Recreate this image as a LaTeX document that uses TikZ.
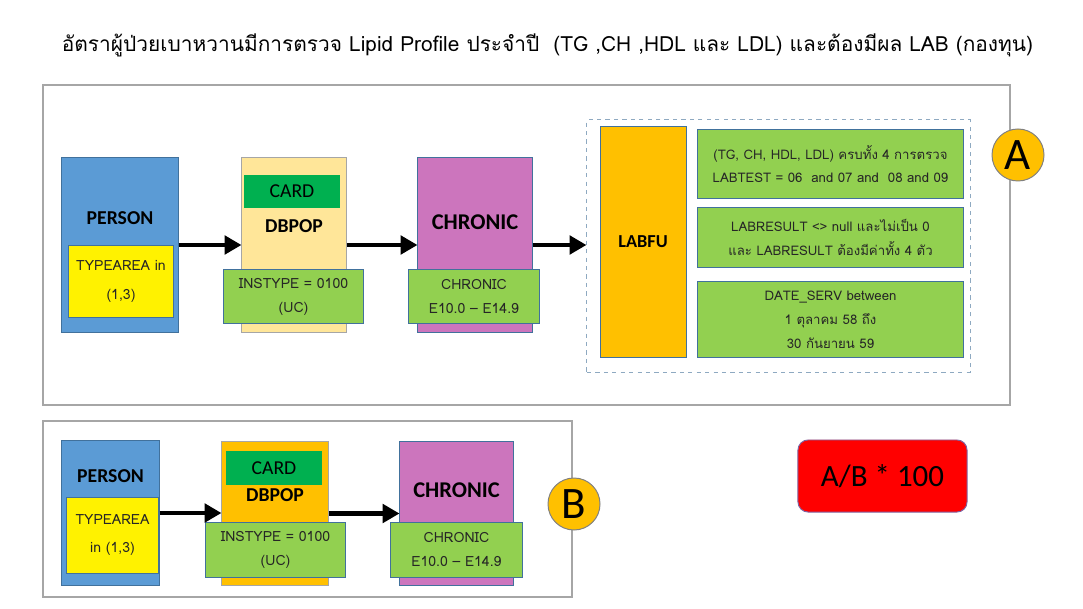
\documentclass[tikz,border=0pt]{standalone}
\usepackage{fontspec}
\setmainfont{Carlito}
\newfontfamily\thaifont[Script=Thai]{Loma}
\usetikzlibrary{arrows.meta,positioning}

\definecolor{personblue}{HTML}{5B9BD5}
\definecolor{edgeblue}{HTML}{41719C}
\definecolor{popcream}{HTML}{FFE699}
\definecolor{cardgreen}{HTML}{00B050}
\definecolor{condgreen}{HTML}{92D050}
\definecolor{chronicpink}{HTML}{CC75BD}
\definecolor{laborange}{HTML}{FFC000}
\definecolor{framegray}{HTML}{A6A6A6}
\definecolor{zoneblue}{HTML}{8EA9C1}
\definecolor{redline}{HTML}{8064A2}

\begin{document}
\begin{tikzpicture}[x=0.025cm, y=-0.025cm,
  box/.style={rectangle, draw=edgeblue, line width=0.7pt, inner sep=0pt},
  cond/.style={box, fill=condgreen, align=center, text=black!85, font=\thaifont\fontsize{10}{17}\selectfont},
  labcond/.style={cond, minimum width=6.625cm, font=\thaifont\fontsize{9.4}{17}\selectfont},
  head/.style={font=\bfseries\fontsize{14}{16}\selectfont},
  frame/.style={draw=framegray, line width=2pt},
  flow/.style={line width=3.5pt, -{Triangle[length=12pt,width=13pt]}},
  tagcircle/.style={circle, draw=gray, line width=0.7pt, fill=laborange, minimum size=1.3cm, inner sep=0pt, font=\fontsize{32}{32}\selectfont}]
  \useasboundingbox (0,0) rectangle (1083,609);

  % title
  \node[font=\thaifont\fontsize{14.85}{18}\selectfont] (title) at (547.5,45) {อัตราผู้ป่วยเบาหวานมีการตรวจ Lipid Profile ประจำปี~ (TG ,CH ,HDL และ LDL) และต้องมีผล LAB (กองทุน)};

  % frame A
  \draw[frame] (43,85) rectangle (1010,405);
  \node[box, fill=personblue, minimum width=2.9cm, minimum height=4.35cm] (personA) at (120,245) {};
  \node[head] (personAlbl) at (120,218) {PERSON};
  \node[box, fill=yellow, minimum width=2.6cm, minimum height=1.775cm, align=center, text=black!85, font=\thaifont\fontsize{10}{20}\selectfont] (typeA) at (121,281.5) {TYPEAREA in\\(1,3)};

  \node[box, draw=framegray, fill=popcream, minimum width=2.6cm, minimum height=4.35cm] (dbpopA) at (294,245) {};
  \node[rectangle, fill=cardgreen, minimum width=2.4cm, minimum height=0.825cm, inner sep=0pt, font=\fontsize{14}{16}\selectfont] (cardA) at (292,191.5) {CARD};
  \node[head] (dbpopAlbl) at (294,226) {DBPOP};
  \node[cond, minimum width=3.475cm, minimum height=1.325cm] (instA) at (293.5,296.5) {INSTYPE = 0100\\(UC)};

  \node[box, fill=chronicpink, minimum width=2.85cm, minimum height=4.35cm] (chronicA) at (475,245) {};
  \node[head, font=\bfseries\fontsize{16}{18}\selectfont] (chronicAlbl) at (475,222) {CHRONIC};
  \node[cond, minimum width=3.25cm, minimum height=1.325cm] (icdA) at (474,296.5) {CHRONIC\\E10.0 – E14.9};

  \node[draw=zoneblue, dashed, line width=0.7pt, minimum width=9.575cm, minimum height=6.3cm, inner sep=0pt] (labzone) at (778.5,246) {};
  \node[box, fill=laborange, minimum width=2.15cm, minimum height=5.75cm, font=\bfseries\fontsize{13}{15}\selectfont] (labfu) at (643,242) {LABFU};
  \node[labcond, minimum height=1.7cm] (testA) at (830.5,164) {(TG, CH, HDL, LDL) ครบทั้ง 4 การตรวจ\\LABTEST = 06~ and 07 and~ 08 and 09};
  \node[labcond, minimum height=1.475cm] (resultA) at (830.5,237.5) {LABRESULT <> null และไม่เป็น 0\\และ LABRESULT ต้องมีค่าทั้ง 4 ตัว};
  \node[labcond, minimum height=1.875cm] (dateA) at (830.5,319.5) {DATE\_SERV between\\1 ตุลาคม 58 ถึง\\30 กันยายน 59};

  \draw[flow] (personA) -- (dbpopA);
  \draw[flow] (dbpopA) -- (chronicA);
  \draw[flow] (chronicA.east) -- (chronicA.east -| labzone.west);
  \node[tagcircle] (tagA) at (1018,155) {A};

  % frame B
  \draw[frame] (43,421) rectangle (572,597);
  \node[box, fill=personblue, minimum width=2.425cm, minimum height=3.6cm] (personB) at (110.5,513) {};
  \node[head] (personBlbl) at (110.5,476) {PERSON};
  \node[box, fill=yellow, minimum width=2.275cm, minimum height=1.9cm, align=center, text=black!85, font=\thaifont\fontsize{10}{20}\selectfont] (typeB) at (112.5,535) {TYPEAREA\\in (1,3)};

  \node[box, draw=framegray, fill=laborange, minimum width=2.65cm, minimum height=3.575cm] (dbpopB) at (275,513.5) {};
  \node[rectangle, fill=cardgreen, minimum width=2.4cm, minimum height=0.85cm, inner sep=0pt, font=\fontsize{14}{16}\selectfont] (cardB) at (274,468) {CARD};
  \node[head] (dbpopBlbl) at (275,495) {DBPOP};
  \node[cond, minimum width=3.475cm, minimum height=1.375cm] (instB) at (275.5,549.5) {INSTYPE = 0100\\(UC)};

  \node[box, fill=chronicpink, minimum width=2.825cm, minimum height=3.575cm] (chronicB) at (456.5,513.5) {};
  \node[head, font=\bfseries\fontsize{16}{18}\selectfont] (chronicBlbl) at (456.5,490) {CHRONIC};
  \node[cond, minimum width=3.275cm, minimum height=1.375cm] (icdB) at (456.5,549.5) {CHRONIC\\E10.0 – E14.9};

  \draw[flow] (personB.east) -- (personB.east -| dbpopB.west);
  \draw[flow] (dbpopB.east) -- (dbpopB.east -| chronicB.west);
  \node[tagcircle] (tagB) at (574,504) {B};

  % ratio
  \node[draw=redline, line width=0.7pt, fill=red, rounded corners=0.25cm, minimum width=4.225cm, minimum height=1.8cm, font=\fontsize{22}{22}\selectfont] (ratio) at (882.5,476) {A/B * 100};
\end{tikzpicture}
\end{document}
